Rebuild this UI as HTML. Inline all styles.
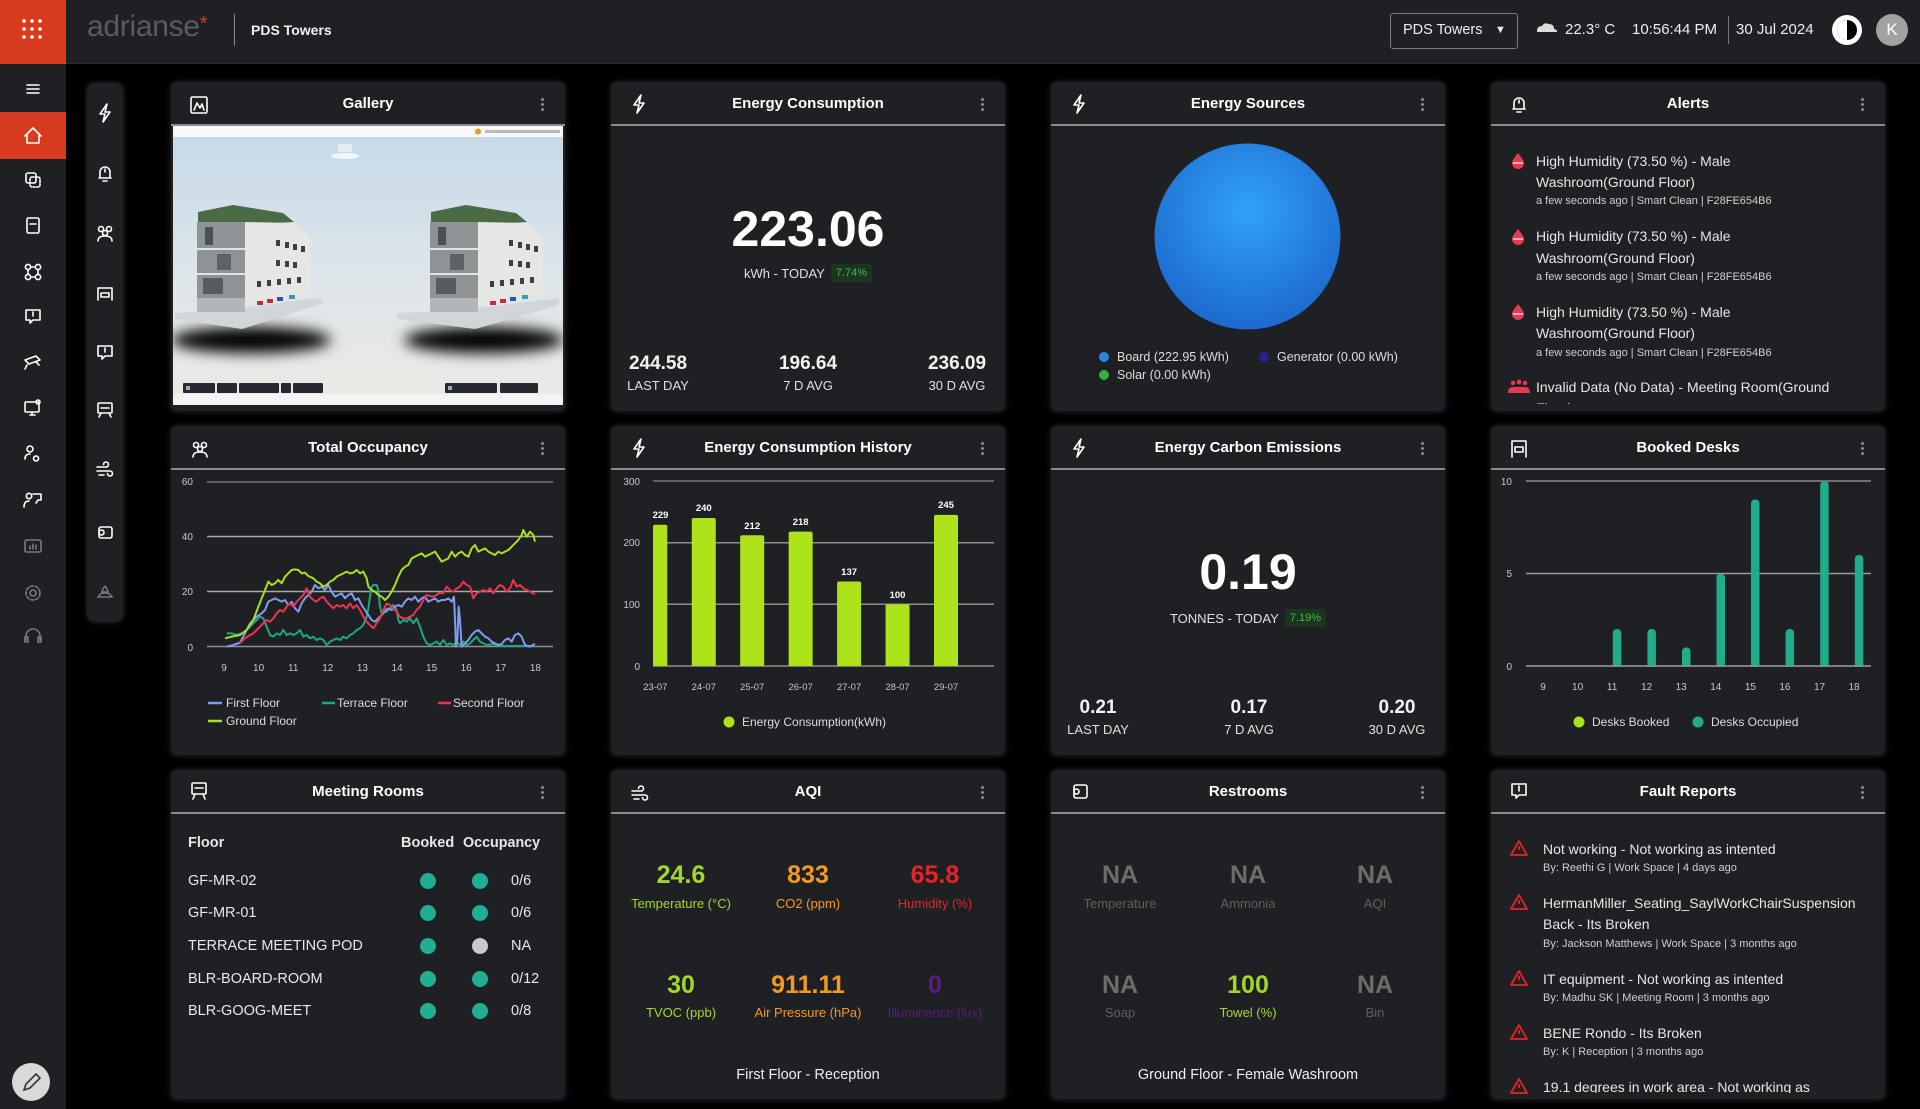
<!DOCTYPE html>
<html><head><meta charset="utf-8">
<style>
*{box-sizing:border-box}
body{margin:0;width:1920px;height:1109px;background:#000;overflow:hidden;position:relative;font-family:"Liberation Sans",Arial,sans-serif;color:#fff}
.a{position:absolute}
.card{position:absolute;width:394px;height:329px;background:#1f2023;border-radius:6px;box-shadow:0 0 6px 1px rgba(110,110,110,.28);overflow:hidden}
.hd{position:absolute;left:0;top:0;width:100%;height:44px;border-bottom:2px solid #8d8d8d}
.tt{position:absolute;left:0;top:0;width:100%;line-height:44px;text-align:center;font-weight:bold;font-size:15px;color:#fff}
.kb{position:absolute;left:370px;top:16px;width:3px;height:3px;border-radius:50%;background:#8a8a8a;box-shadow:0 5px #8a8a8a,0 10px #8a8a8a}
.c{text-align:center}
.big{position:absolute;left:0;width:100%;text-align:center;font-weight:bold;font-size:50px;line-height:50px;color:#fff}
.st{position:absolute;width:120px;text-align:center}
.sn{font-size:19px;font-weight:bold;line-height:22px;color:#f2f2f2}
.sl{font-size:13px;line-height:20px;color:#e0e0e0;margin-top:1px}
.pill{background:#1b3520;color:#45b84a;font-size:11px;line-height:18px;padding:0 5px;border-radius:2px}
.al{position:absolute;left:45px;font-size:14px;line-height:20px;color:#e6e6e6;white-space:nowrap}
.am{position:absolute;left:45px;font-size:11px;line-height:16px;color:#cfcfcf;white-space:nowrap}
.mr{position:absolute;left:17px;font-size:14.5px;line-height:20px;color:#e8e8e8}
.dot{position:absolute;width:16px;height:16px;border-radius:50%;background:#22ae94}
.cnt{position:absolute;left:340px;font-size:14.5px;line-height:20px;color:#e8e8e8}
.v{position:absolute;width:130px;text-align:center;font-weight:bold;font-size:25px;line-height:28px}
.lb{position:absolute;width:130px;text-align:center;font-size:13px;line-height:18px;white-space:nowrap}
.ft{position:absolute;left:0;width:100%;text-align:center;font-size:14.5px;line-height:20px;color:#eee}
.fl{position:absolute;left:52px;font-size:14px;line-height:20px;color:#e6e6e6;white-space:nowrap}
.fm{position:absolute;left:52px;font-size:11px;line-height:16px;color:#cfcfcf;white-space:nowrap}
.lg{position:absolute;font-size:12.5px;line-height:16px;color:#ddd;white-space:nowrap}
.ld{position:absolute;width:10px;height:10px;border-radius:50%}
</style></head><body>

<!-- top bar -->
<div class="a" style="left:0;top:0;width:1920px;height:64px;background:#1f2023;border-bottom:1px solid #2d2e31"></div>
<div class="a" style="left:0;top:0;width:66px;height:64px;background:#d93b1f"></div>
<div class="a" style="left:0;top:64px;width:66px;height:1045px;background:#1f2023"></div>
<div class="a" style="left:0;top:112px;width:66px;height:47px;background:#d93b1f"></div>
<div class="a" style="left:87px;top:12px;font-size:30px;line-height:30px;color:#5a5b5f;letter-spacing:-0.3px">adrianse<span style="color:#d63b1f;font-size:20px;vertical-align:top;position:relative;top:-3px">*</span></div>
<div class="a" style="left:234px;top:14px;width:1px;height:32px;background:#8a8a8a"></div>
<div class="a" style="left:251px;top:20px;font-size:14px;line-height:20px;font-weight:bold;color:#f0f0f0">PDS Towers</div>
<div class="a" style="left:1390px;top:13px;width:128px;height:36px;border:1px solid #7a7a7a;border-radius:3px"></div>
<div class="a" style="left:1403px;top:20px;font-size:14.5px;line-height:20px;color:#eee">PDS Towers</div>
<div class="a" style="left:1495px;top:20px;font-size:11px;line-height:20px;color:#eee">▼</div>
<div class="a" style="left:1565px;top:20px;font-size:15px;line-height:20px;color:#eee">22.3° C</div>
<div class="a" style="left:1632px;top:20px;font-size:15px;line-height:20px;color:#eee">10:56:44 PM</div>
<div class="a" style="left:1728px;top:16px;width:1px;height:28px;background:#777"></div>
<div class="a" style="left:1736px;top:20px;font-size:15px;line-height:20px;color:#eee">30 Jul 2024</div>
<div class="a" style="left:1876px;top:14px;width:32px;height:32px;border-radius:50%;background:#a2a2a2;color:#fff;font-size:17px;line-height:32px;text-align:center">K</div>

<!-- second nav panel -->
<div class="a" style="left:87px;top:83px;width:36px;height:539px;background:#1f2023;border-radius:8px;box-shadow:0 0 4px 1px rgba(110,110,110,.3)"></div>

<!-- edit button -->
<div class="a" style="left:12px;top:1063px;width:38px;height:38px;border-radius:50%;background:#d9d9d9"></div>

<!-- ROW 1 -->
<div class="card" style="left:171px;top:82px">
  <div class="hd"></div><div class="tt">Gallery</div><div class="kb"></div>
  <svg class="a" style="left:2px;top:44px" width="390" height="279" viewBox="0 0 390 279">
    <defs>
      <linearGradient id="sky" x1="0" y1="0" x2="0" y2="1"><stop offset="0" stop-color="#c5d8e7"/><stop offset=".5" stop-color="#dce5ea"/><stop offset="1" stop-color="#ede9e4"/></linearGradient>
      <filter id="bl" x="-50%" y="-100%" width="200%" height="300%"><feGaussianBlur stdDeviation="7"/></filter>
    </defs>
    <rect width="390" height="279" fill="url(#sky)"/>
    <rect width="390" height="11" fill="#f8f8f8"/>
    <circle cx="305" cy="5.5" r="3" fill="#e09a20"/>
    <rect x="312" y="4" width="75" height="3" fill="#b8b8b8"/>
    <ellipse cx="172" cy="30" rx="14" ry="3" fill="#f2f4f6"/>
    <rect x="165" y="18" width="14" height="8" fill="#e6ecf0"/>
    <rect y="268" width="390" height="11" fill="#f3f3f3"/>
    <g>
      <ellipse cx="78" cy="214" rx="80" ry="13" fill="#000" filter="url(#bl)"/>
      <polygon points="2,187 44,185 144,172 151,177 69,203 2,193" fill="#d3d6d8"/>
      <polygon points="25,86 60,79 110,87 121,96 72,99 25,96" fill="#4b6b45"/>
      <polygon points="72,96 121,97 137,110 137,168 72,181" fill="#e6e6e4"/>
      <rect x="24" y="96" width="48" height="76" fill="#8e9396"/>
      <rect x="24" y="122" width="48" height="2" fill="#e2e2e2"/>
      <rect x="24" y="147" width="48" height="2" fill="#e2e2e2"/>
      <rect x="32" y="101" width="8" height="18" fill="#4b5054"/><rect x="44" y="128" width="14" height="16" fill="#5d6368"/><rect x="30" y="152" width="20" height="16" fill="#565c60"/>
      <rect x="24" y="172" width="48" height="14" fill="#b3b5b6"/>
      <g fill="#3b4045"><rect x="103" y="114" width="4" height="6"/><rect x="112" y="116" width="4" height="6"/><rect x="120" y="118" width="4" height="6"/><rect x="128" y="120" width="4" height="6"/><rect x="103" y="134" width="4" height="6"/><rect x="112" y="135" width="4" height="6"/><rect x="120" y="136" width="4" height="6"/><rect x="84" y="155" width="4" height="6"/><rect x="94" y="154" width="4" height="6"/><rect x="104" y="153" width="4" height="6"/><rect x="114" y="152" width="4" height="6"/><rect x="124" y="151" width="4" height="6"/></g>
      <g><rect x="84" y="175" width="6" height="4" fill="#c0303a"/><rect x="94" y="173" width="6" height="4" fill="#c0303a"/><rect x="104" y="171" width="6" height="4" fill="#3050b0"/><rect x="116" y="169" width="6" height="4" fill="#30a0b0"/></g>
    </g>
    <g transform="translate(233,0)">
      <ellipse cx="78" cy="214" rx="80" ry="13" fill="#000" filter="url(#bl)"/>
      <polygon points="-9,187 44,185 154,172 151,180 69,203 -9,193" fill="#d3d6d8"/>
      <polygon points="25,86 60,79 110,87 121,96 72,99 25,96" fill="#4b6b45"/>
      <polygon points="72,96 121,97 137,110 137,168 72,181" fill="#e6e6e4"/>
      <rect x="24" y="96" width="48" height="76" fill="#8e9396"/>
      <rect x="24" y="122" width="48" height="2" fill="#e2e2e2"/>
      <rect x="24" y="147" width="48" height="2" fill="#e2e2e2"/>
      <rect x="32" y="101" width="8" height="18" fill="#4b5054"/><rect x="44" y="128" width="14" height="16" fill="#5d6368"/><rect x="30" y="152" width="20" height="16" fill="#565c60"/>
      <rect x="24" y="172" width="48" height="14" fill="#b3b5b6"/>
      <g fill="#3b4045"><rect x="103" y="114" width="4" height="6"/><rect x="112" y="116" width="4" height="6"/><rect x="120" y="118" width="4" height="6"/><rect x="128" y="120" width="4" height="6"/><rect x="103" y="134" width="4" height="6"/><rect x="112" y="135" width="4" height="6"/><rect x="120" y="136" width="4" height="6"/><rect x="84" y="155" width="4" height="6"/><rect x="94" y="154" width="4" height="6"/><rect x="104" y="153" width="4" height="6"/><rect x="114" y="152" width="4" height="6"/><rect x="124" y="151" width="4" height="6"/></g>
      <g><rect x="84" y="175" width="6" height="4" fill="#c0303a"/><rect x="94" y="173" width="6" height="4" fill="#c0303a"/><rect x="104" y="171" width="6" height="4" fill="#3050b0"/><rect x="116" y="169" width="6" height="4" fill="#30a0b0"/></g>
    </g>
    <g fill="#262a30"><rect x="10" y="257" width="32" height="10" rx="1"/><rect x="44" y="257" width="20" height="10" rx="1"/><rect x="66" y="257" width="40" height="10" rx="1"/><rect x="108" y="257" width="10" height="10" rx="1"/><rect x="120" y="257" width="30" height="10" rx="1"/>
    <rect x="272" y="257" width="52" height="10" rx="1"/><rect x="327" y="257" width="38" height="10" rx="1"/></g>
    <g fill="#9ab"><rect x="13" y="260" width="4" height="4"/><rect x="275" y="260" width="4" height="4"/></g>
  </svg>
</div>

<div class="card" style="left:611px;top:82px">
  <div class="hd"></div><div class="tt">Energy Consumption</div><div class="kb"></div>
  <div class="big" style="top:122px">223.06</div>
  <div class="a" style="left:0;top:181px;width:100%;height:20px;display:flex;justify-content:center;align-items:center;gap:6px"><span style="font-size:13px;color:#e0e0e0">kWh - TODAY</span><span class="pill">7.74%</span></div>
  <div class="st" style="left:-13px;top:271px"><div class="sn">244.58</div><div class="sl">LAST DAY</div></div>
  <div class="st" style="left:137px;top:271px"><div class="sn">196.64</div><div class="sl">7 D AVG</div></div>
  <div class="st" style="left:286px;top:271px"><div class="sn">236.09</div><div class="sl">30 D AVG</div></div>
</div>

<div class="card" style="left:1051px;top:82px">
  <div class="hd"></div><div class="tt">Energy Sources</div><div class="kb"></div>
  <div class="ld" style="left:48px;top:270px;background:#2b86e6"></div><div class="lg" style="left:66px;top:267px">Board (222.95 kWh)</div>
  <div class="ld" style="left:208px;top:270px;background:#23219a"></div><div class="lg" style="left:226px;top:267px">Generator (0.00 kWh)</div>
  <div class="ld" style="left:48px;top:288px;background:#2fb63a"></div><div class="lg" style="left:66px;top:285px">Solar (0.00 kWh)</div>
</div>

<div class="card" style="left:1491px;top:82px">
  <div class="hd"></div><div class="tt">Alerts</div><div class="kb"></div>
  <div class="a" style="left:0;top:46px;width:394px;height:276px;overflow:hidden">
    <div class="al" style="top:23px">High Humidity (73.50 %) - Male</div>
    <div class="al" style="top:44px">Washroom(Ground Floor)</div>
    <div class="am" style="top:65px">a few seconds ago | Smart Clean | F28FE654B6</div>
    <div class="al" style="top:98px">High Humidity (73.50 %) - Male</div>
    <div class="al" style="top:120px">Washroom(Ground Floor)</div>
    <div class="am" style="top:141px">a few seconds ago | Smart Clean | F28FE654B6</div>
    <div class="al" style="top:174px">High Humidity (73.50 %) - Male</div>
    <div class="al" style="top:195px">Washroom(Ground Floor)</div>
    <div class="am" style="top:217px">a few seconds ago | Smart Clean | F28FE654B6</div>
    <div class="al" style="top:249px">Invalid Data (No Data) - Meeting Room(Ground</div>
    <div class="al" style="top:270px">Floor)</div>
  </div>
</div>

<!-- ROW 2 -->
<div class="card" style="left:171px;top:426px">
  <div class="hd"></div><div class="tt">Total Occupancy</div><div class="kb"></div>
  <div class="lg" style="left:55px;top:269px;font-size:12px">First Floor</div>
  <div class="lg" style="left:166px;top:269px;font-size:12px">Terrace Floor</div>
  <div class="lg" style="left:282px;top:269px;font-size:12px">Second Floor</div>
  <div class="lg" style="left:55px;top:287px;font-size:12px">Ground Floor</div>
</div>

<div class="card" style="left:611px;top:426px">
  <div class="hd"></div><div class="tt">Energy Consumption History</div><div class="kb"></div>
  <div class="lg" style="left:131px;top:288px;font-size:12px">Energy Consumption(kWh)</div>
</div>

<div class="card" style="left:1051px;top:426px">
  <div class="hd"></div><div class="tt">Energy Carbon Emissions</div><div class="kb"></div>
  <div class="big" style="top:121px">0.19</div>
  <div class="a" style="left:0;top:182px;width:100%;height:20px;display:flex;justify-content:center;align-items:center;gap:6px"><span style="font-size:13px;color:#e0e0e0">TONNES - TODAY</span><span class="pill">7.19%</span></div>
  <div class="st" style="left:-13px;top:271px"><div class="sn">0.21</div><div class="sl">LAST DAY</div></div>
  <div class="st" style="left:138px;top:271px"><div class="sn">0.17</div><div class="sl">7 D AVG</div></div>
  <div class="st" style="left:286px;top:271px"><div class="sn">0.20</div><div class="sl">30 D AVG</div></div>
</div>

<div class="card" style="left:1491px;top:426px">
  <div class="hd"></div><div class="tt">Booked Desks</div><div class="kb"></div>
  <div class="lg" style="left:101px;top:288px;font-size:12px">Desks Booked</div>
  <div class="lg" style="left:220px;top:288px;font-size:12px">Desks Occupied</div>
</div>

<!-- ROW 3 -->
<div class="card" style="left:171px;top:770px">
  <div class="hd"></div><div class="tt">Meeting Rooms</div><div class="kb"></div>
  <div class="mr" style="top:63px;font-weight:bold">Floor</div>
  <div class="mr" style="left:230px;top:63px;font-weight:bold">Booked</div>
  <div class="mr" style="left:292px;top:63px;font-weight:bold;font-size:14.3px">Occupancy</div>
  <div class="mr" style="top:101px">GF-MR-02</div>
  <div class="mr" style="top:133px">GF-MR-01</div>
  <div class="mr" style="top:166px">TERRACE MEETING POD</div>
  <div class="mr" style="top:199px">BLR-BOARD-ROOM</div>
  <div class="mr" style="top:231px">BLR-GOOG-MEET</div>
  <div class="dot" style="left:249px;top:103px"></div><div class="dot" style="left:301px;top:103px"></div><div class="cnt" style="top:101px">0/6</div>
  <div class="dot" style="left:249px;top:135px"></div><div class="dot" style="left:301px;top:135px"></div><div class="cnt" style="top:133px">0/6</div>
  <div class="dot" style="left:249px;top:168px"></div><div class="dot" style="left:301px;top:168px;background:#c9c9c9"></div><div class="cnt" style="top:166px">NA</div>
  <div class="dot" style="left:249px;top:201px"></div><div class="dot" style="left:301px;top:201px"></div><div class="cnt" style="top:199px">0/12</div>
  <div class="dot" style="left:249px;top:233px"></div><div class="dot" style="left:301px;top:233px"></div><div class="cnt" style="top:231px">0/8</div>
</div>

<div class="card" style="left:611px;top:770px">
  <div class="hd"></div><div class="tt">AQI</div><div class="kb"></div>
  <div class="v" style="left:5px;top:91px;color:#a3d62b">24.6</div><div class="lb" style="left:5px;top:125px;color:#a3d62b">Temperature (°C)</div>
  <div class="v" style="left:132px;top:91px;color:#f29b20">833</div><div class="lb" style="left:132px;top:125px;color:#f29b20">CO2 (ppm)</div>
  <div class="v" style="left:259px;top:91px;color:#e62428">65.8</div><div class="lb" style="left:259px;top:125px;color:#e62428">Humidity (%)</div>
  <div class="v" style="left:5px;top:201px;color:#a3d62b">30</div><div class="lb" style="left:5px;top:234px;color:#a3d62b">TVOC (ppb)</div>
  <div class="v" style="left:132px;top:201px;color:#f29b20">911.11</div><div class="lb" style="left:132px;top:234px;color:#f29b20">Air Pressure (hPa)</div>
  <div class="v" style="left:259px;top:201px;color:#5e1a85">0</div><div class="lb" style="left:259px;top:234px;color:#55207a">Illuminance (lux)</div>
  <div class="ft" style="top:295px">First Floor - Reception</div>
</div>

<div class="card" style="left:1051px;top:770px">
  <div class="hd"></div><div class="tt">Restrooms</div><div class="kb"></div>
  <div class="v" style="left:4px;top:91px;color:#6c6c6c">NA</div><div class="lb" style="left:4px;top:125px;color:#5f5f5f">Temperature</div>
  <div class="v" style="left:132px;top:91px;color:#6c6c6c">NA</div><div class="lb" style="left:132px;top:125px;color:#5f5f5f">Ammonia</div>
  <div class="v" style="left:259px;top:91px;color:#6c6c6c">NA</div><div class="lb" style="left:259px;top:125px;color:#5f5f5f">AQI</div>
  <div class="v" style="left:4px;top:201px;color:#6c6c6c">NA</div><div class="lb" style="left:4px;top:234px;color:#5f5f5f">Soap</div>
  <div class="v" style="left:132px;top:201px;color:#a3d62b">100</div><div class="lb" style="left:132px;top:234px;color:#a3d62b">Towel (%)</div>
  <div class="v" style="left:259px;top:201px;color:#6c6c6c">NA</div><div class="lb" style="left:259px;top:234px;color:#5f5f5f">Bin</div>
  <div class="ft" style="top:295px">Ground Floor - Female Washroom</div>
</div>

<div class="card" style="left:1491px;top:770px">
  <div class="hd"></div><div class="tt">Fault Reports</div><div class="kb"></div>
  <div class="a" style="left:0;top:46px;width:364px;height:277px;overflow:hidden">
    <div class="fl" style="top:23px">Not working - Not working as intented</div>
    <div class="fm" style="top:44px">By: Reethi G | Work Space | 4 days ago</div>
    <div class="fl" style="top:77px">HermanMiller_Seating_SaylWorkChairSuspension</div>
    <div class="fl" style="top:98px">Back - Its Broken</div>
    <div class="fm" style="top:120px">By: Jackson Matthews | Work Space | 3 months ago</div>
    <div class="fl" style="top:153px">IT equipment - Not working as intented</div>
    <div class="fm" style="top:174px">By: Madhu SK | Meeting Room | 3 months ago</div>
    <div class="fl" style="top:207px">BENE Rondo - Its Broken</div>
    <div class="fm" style="top:228px">By: K | Reception | 3 months ago</div>
    <div class="fl" style="top:261px">19.1 degrees in work area - Not working as</div>
  </div>
</div>

<!-- OVERLAY: charts & icons -->
<svg class="a" style="left:0;top:0" width="1920" height="1109" viewBox="0 0 1920 1109" font-family="Liberation Sans, Arial, sans-serif">
  <defs>
    <radialGradient id="sph" cx="0.5" cy="0.36" r="0.62"><stop offset="0" stop-color="#31a2f8"/><stop offset="1" stop-color="#1d6bd0"/></radialGradient>
  </defs>
  <!-- app grid dots -->
  <g fill="#fff"><circle cx="24" cy="21" r="1.8"/><circle cx="32" cy="21" r="1.8"/><circle cx="40" cy="21" r="1.8"/><circle cx="24" cy="29" r="1.8"/><circle cx="32" cy="29" r="1.8"/><circle cx="40" cy="29" r="1.8"/><circle cx="24" cy="37" r="1.8"/><circle cx="32" cy="37" r="1.8"/><circle cx="40" cy="37" r="1.8"/></g>
  <!-- weather, contrast -->
  <path d="M1537 31 q0-5 5-5 q2-4 7-2 q5 0 5 5 q3 0 3 3 h-20z" fill="#ddd"/>
  <circle cx="1847" cy="30" r="15" fill="#fff"/><circle cx="1847" cy="30" r="10" fill="#000"/><path d="M1847 20 a10 10 0 0 0 0 20 z" fill="#fff"/><circle cx="1847" cy="30" r="6.5" fill="none" stroke="#000" stroke-width="0"/>
  <!-- sidebar 1 icons -->
  <g stroke="#fff" stroke-width="1.6" fill="none" stroke-linecap="round" stroke-linejoin="round">
    <path d="M27 85h12M27 89h12M27 93h12"/>
    <path d="M25 136l8-8 8 8M27 134v9h12v-9"/>
    <rect x="26" y="173" width="10" height="10" rx="2"/><rect x="30" y="177" width="10" height="10" rx="2" stroke-dasharray="2 1.5"/>
    <rect x="27" y="218" width="12" height="15" rx="1.5"/><path d="M30 224h6"/>
    <circle cx="28" cy="267" r="2.6"/><circle cx="38" cy="267" r="2.6"/><circle cx="28" cy="277" r="2.6"/><circle cx="38" cy="277" r="2.6"/><path d="M28 270v4M38 270v4M31 267h4M31 277h4"/>
    <path d="M26 310h14v10h-7l-3 3v-3h-4z"/><path d="M33 312v4"/>
    <path d="M25 360l11-4 4 4-11 4zM27 365l-2 4M36 362l3 3"/>
    <rect x="25" y="402" width="14" height="10" rx="1"/><path d="M30 415h5M32 412v3"/><circle cx="38" cy="402" r="2"/>
    <circle cx="30" cy="449" r="3"/><path d="M25 459q0-5 5-5M36 456a2.5 2.5 0 1 0 0.1 0"/>
    <circle cx="29" cy="496" r="2.7"/><path d="M24 507q0-6 5-6M33 494h8v6h-3l-2 3"/>
  </g>
  <g stroke="#7a7a7a" stroke-width="1.6" fill="none" stroke-linecap="round">
    <rect x="25" y="540" width="16" height="12" rx="1.5"/><path d="M30 549v-3M33 549v-5M36 549v-4"/>
    <circle cx="33" cy="593" r="3"/><circle cx="33" cy="593" r="7" stroke-dasharray="3 2"/>
    <path d="M26 640v-4a7 7 0 0 1 14 0v4M25 637h3v5h-3zM38 637h3v5h-3z"/>
  </g>
  <path d="M24 1090l2-6 10-10 4 4-10 10z" fill="none" stroke="#333" stroke-width="1.6"/>
  <!-- nav panel 2 icons -->
  <g stroke="#fff" stroke-width="1.6" fill="none" stroke-linecap="round" stroke-linejoin="round">
    <path d="M107 104l-7 10h5l-2 8 7-10h-5z"/>
    <path d="M99 178h12M100 178v-6a5 5 0 0 1 10 0v6M103 181h4M105 169v3"/>
    <circle cx="101" cy="229" r="2.5"/><circle cx="109" cy="229" r="2.5"/><circle cx="105" cy="233" r="2.5"/><path d="M98 241q0-5 7-5q7 0 7 5"/>
    <path d="M98 288h14v12M98 288v12M101 293h8v4h-8z"/>
    <path d="M98 346h14v10h-7l-3 3v-3h-4z"/><path d="M105 348v4"/>
    <rect x="98" y="403" width="14" height="10" rx="1"/><path d="M101 408h8M99 417l2-4M111 417l-2-4"/>
    <path d="M97 467h9a2.5 2.5 0 1 0-2.5-2.5M97 471h13a2.5 2.5 0 1 1-2.5 2.5M99 475h5"/>
    <rect x="99" y="527" width="13" height="11" rx="2"/><circle cx="101.5" cy="532.5" r="2.5"/>
  </g>
  <path d="M97 597h16M99 597q0-4 6-4q6 0 6 4M105 586q-3 4-3 6h6q0-2-3-6" stroke="#777" stroke-width="1.5" fill="none"/>

  <!-- card header icons -->
  <g stroke="#fff" stroke-width="1.6" fill="none" stroke-linecap="round" stroke-linejoin="round">
    <rect x="191" y="97" width="16" height="16" rx="1.5"/><path d="M194 110l3-7 3 5 2-4 2 6"/>
    <path d="M641 95l-7 10h5l-2 8 7-10h-5z"/>
    <path d="M1081 95l-7 10h5l-2 8 7-10h-5z"/>
    <path d="M1513 109h12M1514 109v-6a5 5 0 0 1 10 0v6M1517 112h4M1519 100v3"/>
    <circle cx="196" cy="445" r="2.5"/><circle cx="204" cy="445" r="2.5"/><circle cx="200" cy="449" r="2.5"/><path d="M193 457q0-5 7-5q7 0 7 5"/>
    <path d="M641 439l-7 10h5l-2 8 7-10h-5z"/>
    <path d="M1081 439l-7 10h5l-2 8 7-10h-5z"/>
    <path d="M1512 441h14v16M1512 441v16M1515 447h8v5h-8z"/>
    <rect x="192" y="783" width="14" height="11" rx="1"/><path d="M195 788h8M193 799l2-5M205 799l-2-5"/>
    <path d="M632 791h9a2.5 2.5 0 1 0-2.5-2.5M632 795h13a2.5 2.5 0 1 1-2.5 2.5M634 799h5"/>
    <rect x="1074" y="785" width="13" height="13" rx="2"/><circle cx="1076.5" cy="791.5" r="2.5"/>
    <path d="M1512 784h14v11h-7l-3 3v-3h-4z"/><path d="M1519 786v5"/>
  </g>

  <!-- Energy sources sphere -->
  <circle cx="1247.5" cy="236.5" r="93" fill="url(#sph)"/>

  <!-- alert icons -->
  <g fill="#e8394f">
    <path d="M1518 153c-4 5-6 8-6 10a6 6 0 0 0 12 0c0-2-2-5-6-10z"/><path d="M1513 163h10" stroke="#fff" stroke-width="1.2"/>
    <path d="M1518 229c-4 5-6 8-6 10a6 6 0 0 0 12 0c0-2-2-5-6-10z"/><path d="M1513 239h10" stroke="#fff" stroke-width="1.2"/>
    <path d="M1518 304c-4 5-6 8-6 10a6 6 0 0 0 12 0c0-2-2-5-6-10z"/><path d="M1513 314h10" stroke="#fff" stroke-width="1.2"/>
    <circle cx="1513" cy="383" r="2.2"/><circle cx="1519" cy="382" r="2.4"/><circle cx="1525" cy="383" r="2.2"/><path d="M1508 393q0-6 5-6h12q5 0 5 6z"/>
  </g>

  <!-- fault icons -->
  <g fill="none" stroke="#e32424" stroke-width="1.8" stroke-linejoin="round">
    <path d="M1519 841l8 14h-16z"/><path d="M1519 846v4"/>
    <path d="M1519 895l8 14h-16z"/><path d="M1519 900v4"/>
    <path d="M1519 971l8 14h-16z"/><path d="M1519 976v4"/>
    <path d="M1519 1025l8 14h-16z"/><path d="M1519 1030v4"/>
    <path d="M1519 1079l8 14h-16z"/><path d="M1519 1084v4"/>
  </g>

  <!-- TOTAL OCCUPANCY -->
  <g font-size="10" fill="#c8c8c8" text-anchor="end">
    <text x="193" y="485">60</text><text x="193" y="540">40</text><text x="193" y="595">20</text><text x="193" y="651">0</text>
  </g>
  <g stroke-width="1.5">
    <line x1="207" x2="553" y1="482" y2="482" stroke="#767676"/>
    <line x1="207" x2="553" y1="536.5" y2="536.5" stroke="#a8a8a8"/>
    <line x1="207" x2="553" y1="591.5" y2="591.5" stroke="#a8a8a8"/>
    <line x1="207" x2="553" y1="646.5" y2="646.5" stroke="#8e8e8e"/>
  </g>
  <g font-size="10" fill="#c8c8c8" text-anchor="middle">
    <text x="224" y="671">9</text><text x="258.6" y="671">10</text><text x="293.2" y="671">11</text><text x="327.8" y="671">12</text><text x="362.4" y="671">13</text><text x="397" y="671">14</text><text x="431.6" y="671">15</text><text x="466.2" y="671">16</text><text x="500.8" y="671">17</text><text x="535.4" y="671">18</text>
  </g>
  <g transform="translate(200,520) scale(0.33333)" fill="none" stroke-width="6" stroke-linejoin="round">
    <polyline stroke="#1ba882" points="80,340 95,340 110,345 125,340 140,330 150,320 160,310 170,300 180,290 190,295 200,320 210,345 220,350 230,340 240,345 250,330 260,345 270,340 280,345 290,340 300,330 310,350 320,345 330,355 340,350 350,360 360,355 370,360 380,375 390,365 400,360 410,355 420,360 430,350 440,355 450,345 460,340 470,330 480,325 490,315 500,290 505,265 510,230 515,200 520,195 530,195 535,210 540,260 545,280 550,270 555,265 560,275 570,265 580,255 590,270 595,300 600,310 610,300 620,305 630,295 640,310 650,295 660,320 670,350 680,370 690,375 700,370 710,365 720,375 730,360 740,375 750,370 760,375 770,365 780,375 790,365 800,375 810,370 820,360 830,350 840,365 850,370 860,375 880,372 900,378 940,378 1000,378"/>
    <polyline stroke="#7f9df0" points="80,380 100,375 120,368 135,340 150,310 160,300 170,290 185,280 195,270 205,245 215,240 225,235 235,240 245,245 255,240 265,255 275,245 285,265 295,275 305,250 315,235 325,225 335,215 345,195 355,205 365,200 375,210 385,195 395,215 405,230 415,225 425,220 435,235 445,225 455,220 465,240 475,235 485,255 495,270 505,285 515,300 525,305 535,295 545,285 555,275 565,265 575,270 585,260 595,255 605,260 615,245 625,235 635,240 645,230 655,245 665,235 675,230 685,245 695,240 705,235 715,245 725,240 735,240 745,235 755,245 762,230 765,300 768,380 772,360 776,260 780,300 785,380 795,370 805,360 815,345 825,335 835,330 845,340 855,350 865,355 875,365 885,370 895,375 905,372 915,360 925,355 935,365 945,345 955,340 965,350 975,375 990,380 1005,372"/>
    <polyline stroke="#ec3450" points="120,370 135,355 150,345 160,340 170,330 180,320 190,310 200,300 210,305 220,295 230,280 240,270 250,275 260,260 270,250 280,260 290,245 300,235 310,225 320,205 330,230 340,240 350,245 360,235 370,230 380,245 390,255 400,265 410,255 420,260 430,255 440,265 450,250 460,265 470,255 480,270 490,290 500,305 510,315 520,325 530,310 540,295 550,270 560,250 570,255 580,265 590,275 600,290 610,295 620,295 630,290 640,285 650,270 660,260 670,240 680,225 690,228 700,230 710,225 720,218 730,220 740,200 750,210 760,215 770,205 780,200 790,185 800,195 810,200 820,235 830,220 840,215 850,210 860,215 870,205 880,220 890,205 900,195 910,200 920,215 930,205 940,180 950,200 960,195 970,205 980,210 990,215 1000,220 1005,222"/>
    <polyline stroke="#a9e21d" points="75,355 95,350 120,345 140,330 160,300 175,260 185,235 195,210 205,185 215,195 225,190 235,180 245,190 255,170 265,160 275,150 285,148 295,150 305,160 315,158 325,168 340,175 350,185 360,190 370,200 380,195 390,185 400,180 410,170 420,165 430,160 440,155 450,160 460,158 470,150 480,160 490,155 500,175 505,200 515,210 525,215 535,225 545,230 555,240 565,230 575,215 585,195 595,170 605,150 615,140 625,135 635,115 645,110 655,105 665,100 675,110 685,105 695,100 705,95 715,110 725,125 735,120 745,115 755,95 765,110 775,100 785,95 795,105 805,110 815,85 825,75 835,95 845,90 855,85 865,95 875,100 885,105 895,95 905,100 915,95 925,90 935,80 945,70 955,60 965,45 970,30 980,50 990,35 1000,45 1005,65"/>
  </g>
  <g stroke-width="2.5">
    <line x1="208" x2="222" y1="703" y2="703" stroke="#7f9df0"/>
    <line x1="322" x2="335" y1="703" y2="703" stroke="#1ba882"/>
    <line x1="438" x2="451" y1="703" y2="703" stroke="#ec3450"/>
    <line x1="208" x2="222" y1="721" y2="721" stroke="#a9e21d"/>
  </g>

  <!-- ENERGY HISTORY -->
  <g font-size="10" fill="#c8c8c8" text-anchor="end">
    <text x="640" y="485">300</text><text x="640" y="546">200</text><text x="640" y="608">100</text><text x="640" y="670">0</text>
  </g>
  <g stroke-width="1.5">
    <line x1="653" x2="994" y1="481" y2="481" stroke="#767676"/>
    <line x1="653" x2="994" y1="542.7" y2="542.7" stroke="#8e8e8e"/>
    <line x1="653" x2="994" y1="604.3" y2="604.3" stroke="#8e8e8e"/>
    <line x1="653" x2="994" y1="666" y2="666" stroke="#8e8e8e"/>
  </g>
  <g fill="#aee31c">
    <path d="M653 666V526.8q0-2 2-2h10.3q2 0 2 2V666z"/>
    <path d="M691.75 666V520q0-2 2-2h20q2 0 2 2V666z"/>
    <path d="M740.2 666V537.3q0-2 2-2h20q2 0 2 2V666z"/>
    <path d="M788.65 666V533.6q0-2 2-2h20q2 0 2 2V666z"/>
    <path d="M837.1 666V583.5q0-2 2-2h20q2 0 2 2V666z"/>
    <path d="M885.55 666V606.3q0-2 2-2h20q2 0 2 2V666z"/>
    <path d="M934 666V516.9q0-2 2-2h20q2 0 2 2V666z"/>
  </g>
  <g font-size="9.5" font-weight="bold" fill="#fff" text-anchor="middle">
    <text x="660.5" y="518">229</text><text x="703.75" y="511">240</text><text x="752.2" y="529">212</text><text x="800.65" y="525">218</text><text x="849.1" y="575">137</text><text x="897.55" y="598">100</text><text x="946" y="508">245</text>
  </g>
  <g font-size="9.5" fill="#c8c8c8" text-anchor="middle">
    <text x="655.3" y="690">23-07</text><text x="703.75" y="690">24-07</text><text x="752.2" y="690">25-07</text><text x="800.65" y="690">26-07</text><text x="849.1" y="690">27-07</text><text x="897.55" y="690">28-07</text><text x="946" y="690">29-07</text>
  </g>
  <circle cx="729" cy="722" r="5.5" fill="#aee31c"/>

  <!-- BOOKED DESKS -->
  <g font-size="10" fill="#c8c8c8" text-anchor="end">
    <text x="1512" y="485">10</text><text x="1512" y="577">5</text><text x="1512" y="670">0</text>
  </g>
  <g stroke-width="1.5">
    <line x1="1526" x2="1871" y1="481" y2="481" stroke="#8a8a8a"/>
    <line x1="1526" x2="1871" y1="573.5" y2="573.5" stroke="#9a9a9a"/>
    <line x1="1526" x2="1871" y1="666" y2="666" stroke="#8e8e8e"/>
  </g>
  <g fill="#20ad8c">
    <rect x="1612.8" y="629" width="8.5" height="40" rx="4"/>
    <rect x="1647.4" y="629" width="8.5" height="40" rx="4"/>
    <rect x="1682" y="647.5" width="8.5" height="22" rx="4"/>
    <rect x="1716.5" y="573.5" width="8.5" height="96" rx="4"/>
    <rect x="1751" y="499.5" width="8.5" height="170" rx="4"/>
    <rect x="1785.6" y="629" width="8.5" height="40" rx="4"/>
    <rect x="1820.2" y="481" width="8.5" height="188" rx="4"/>
    <rect x="1854.8" y="555" width="8.5" height="114" rx="4"/>
  </g>
  <rect x="1520" y="667" width="355" height="6" fill="#1f2023"/>
  <line x1="1526" x2="1871" y1="666" y2="666" stroke="#8e8e8e" stroke-width="1.5"/>
  <g font-size="10" fill="#c8c8c8" text-anchor="middle">
    <text x="1543" y="690">9</text><text x="1577.6" y="690">10</text><text x="1612.1" y="690">11</text><text x="1646.7" y="690">12</text><text x="1681.2" y="690">13</text><text x="1715.8" y="690">14</text><text x="1750.4" y="690">15</text><text x="1784.9" y="690">16</text><text x="1819.5" y="690">17</text><text x="1854" y="690">18</text>
  </g>
  <circle cx="1579" cy="722" r="5.5" fill="#a6e31c"/>
  <circle cx="1698" cy="722" r="5.5" fill="#20ad8c"/>
</svg>
</body></html>
